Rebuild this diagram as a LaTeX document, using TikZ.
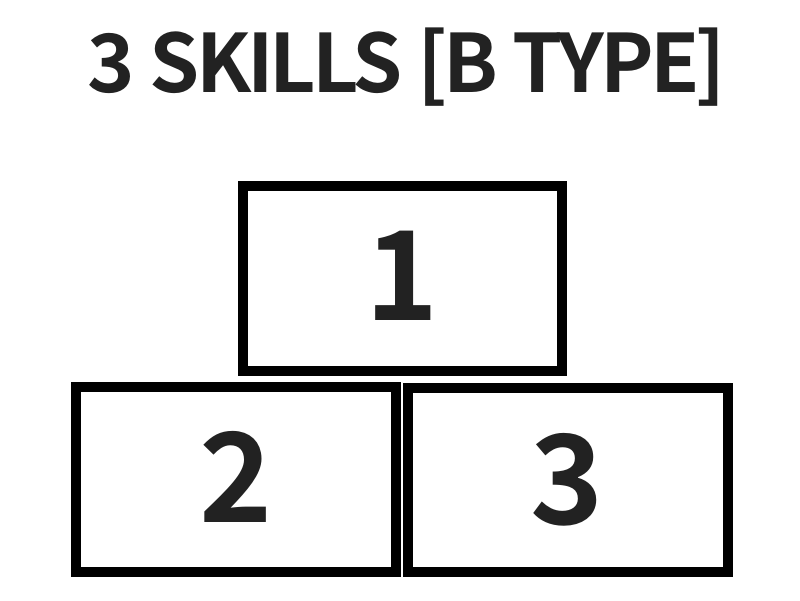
\documentclass[tikz,border=0pt]{standalone}
\usepackage{fontspec}
\setmainfont{Noto Sans CJK SC}[BoldFont={Noto Sans CJK SC Bold}]
\newfontfamily\titlefont{Noto Sans CJK SC Bold}[LetterSpace=-4.9]
\definecolor{ink}{HTML}{222222}
\begin{document}
\begin{tikzpicture}[x=1pt,y=-1pt,
  box/.style={draw=black,line width=10pt},
  digit/.style={anchor=base,inner sep=0pt,text=ink,font=\fontsize{124}{124}\selectfont\bfseries},
  titlestyle/.style={anchor=base,inner sep=0pt,text=ink,font=\titlefont\fontsize{80.5}{80.5}\selectfont}]
\useasboundingbox (0,0) rectangle (800,600);
\node[titlestyle] (title) at (407,92.7) {3 SKILLS [B TYPE]};
\draw[box] (243.3,186) rectangle (562.3,370.7);
\draw[box] (76,387) rectangle (395.7,572.3);
\draw[box] (408.3,388.3) rectangle (727.7,572.3);
\node[digit] (one) at (402.5,320.7) {1};
\node[digit] (two) at (236,522) {2};
\node[digit] (three) at (567,524) {3};
\end{tikzpicture}
\end{document}
